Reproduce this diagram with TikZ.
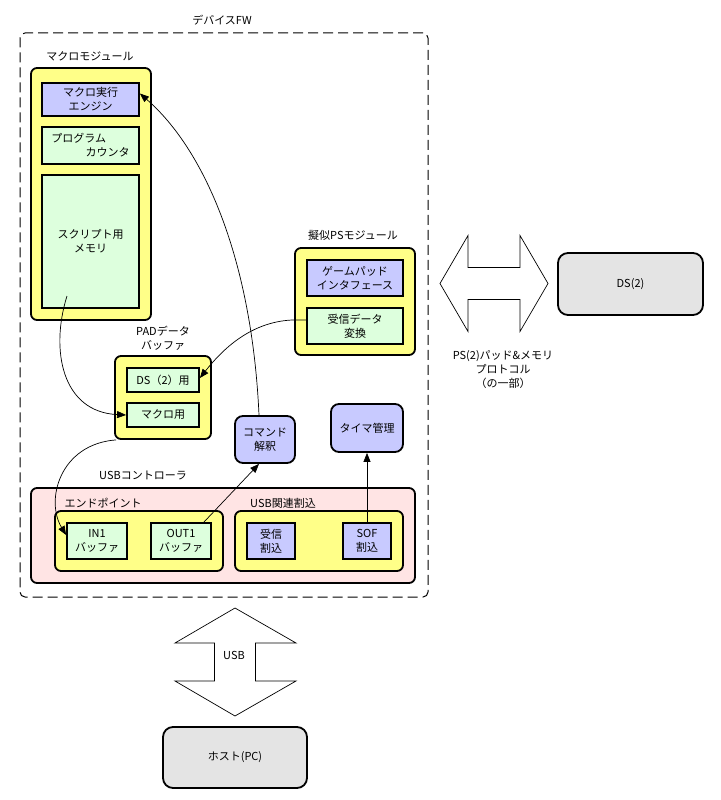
\documentclass[tikz,border=0pt]{standalone}
\usepackage{fontspec}
\setmainfont{Noto Sans CJK JP}
\usetikzlibrary{arrows.meta}
\definecolor{cyel}{HTML}{FFFF88}
\definecolor{cgrn}{HTML}{DDFFDD}
\definecolor{cblu}{HTML}{C8CAFF}
\definecolor{cpnk}{HTML}{FFE4E4}
\definecolor{cgry}{HTML}{E4E4E4}
\begin{document}
\begin{tikzpicture}[x=1pt,y=-1pt,
  every node/.style={font=\fontsize{11}{14}\selectfont, align=center, inner sep=0pt},
  box/.style={draw, line width=1.8pt, rectangle},
  ybox/.style={box, fill=cyel, rounded corners=6pt},
  gbox/.style={box, fill=cgrn},
  bbox/.style={box, fill=cblu},
  rbbox/.style={box, fill=cblu, rounded corners=8pt},
  pbox/.style={box, fill=cpnk, rounded corners=6pt},
  hbox/.style={box, fill=cgry, rounded corners=10pt},
  lbl/.style={},
  conn/.style={line width=0.7pt, -{Triangle[length=9pt,width=7pt]}},
  bigarrow/.style={draw, line width=0.7pt, fill=white}
]
\useasboundingbox (0,0) rectangle (720,800);

% outer device FW
\node[draw, dash pattern=on 10pt off 5pt, line width=1pt, rounded corners=5pt,
      minimum width=408pt, minimum height=564pt] (fw) at (224,315) {};
\node[lbl] (fwl) at (222,20) {デバイスFW};

% macro module
\node[lbl] (macl) at (90,56) {マクロモジュール};
\node[ybox, minimum width=120pt, minimum height=252pt] (mac) at (91,194) {};
\node[bbox, minimum width=97pt, minimum height=33pt] (engine) at (90.5,99.5) {マクロ実行\\エンジン};
\node[gbox, minimum width=97pt, minimum height=37pt] (pc) at (90.5,145.5) {};
\node[lbl, align=left] (pct) at (90.5,145.5) {プログラム\\\hspace{3.1em}カウンタ};
\node[gbox, minimum width=97pt, minimum height=133pt] (mem) at (90.5,241.5) {スクリプト用\\メモリ};

% pseudo PS module
\node[lbl] (psl) at (353,235) {擬似PSモジュール};
\node[ybox, minimum width=120pt, minimum height=107pt] (ps) at (355,301.5) {};
\node[bbox, minimum width=96pt, minimum height=36pt] (gpif) at (355,278) {ゲームパッド\\インタフェース};
\node[gbox, minimum width=96pt, minimum height=36pt] (conv) at (355,326) {受信データ\\変換};

% PAD data buffer
\node[lbl] (padl) at (163,338) {PADデータ\\バッファ};
\node[ybox, minimum width=96pt, minimum height=83pt] (pad) at (163,397.5) {};
\node[gbox, minimum width=72pt, minimum height=24pt] (ds2use) at (163,380) {DS（2）用};
\node[gbox, minimum width=72pt, minimum height=24pt] (macuse) at (163,415) {マクロ用};

% command / timer
\node[rbbox, minimum width=60pt, minimum height=47pt] (cmd) at (265,439.5) {コマンド\\解釈};
\node[rbbox, minimum width=72pt, minimum height=48pt] (timer) at (367,428) {タイマ管理};

% USB controller
\node[lbl] (usbcl) at (143,475) {USBコントローラ};
\node[pbox, minimum width=384pt, minimum height=95pt] (usbc) at (223,535.5) {};
\node[lbl] (epl) at (103,503) {エンドポイント};
\node[ybox, minimum width=168pt, minimum height=60pt] (ep) at (139,541) {};
\node[gbox, minimum width=60pt, minimum height=36pt] (in1) at (97,541) {IN1\\バッファ};
\node[gbox, minimum width=60pt, minimum height=36pt] (out1) at (181,541) {OUT1\\バッファ};
\node[lbl] (irql) at (283,503) {USB関連割込};
\node[ybox, minimum width=168pt, minimum height=60pt] (irq) at (319,541) {};
\node[bbox, minimum width=48pt, minimum height=36pt] (rx) at (271,541) {受信\\割込};
\node[bbox, minimum width=48pt, minimum height=36pt] (sof) at (367,541) {SOF\\割込};

% external
\node[hbox, minimum width=145pt, minimum height=62pt] (ds2) at (630.5,284) {DS(2)};
\node[hbox, minimum width=144pt, minimum height=61pt] (host) at (235,757.5) {ホスト(PC)};

% big double arrows
\draw[bigarrow] (440,283.5) -- (468,235.5) -- (468,267.5) -- (520,267.5) -- (520,235.5)
  -- (548,283.5) -- (520,331.5) -- (520,299.5) -- (468,299.5) -- (468,331.5) -- cycle;
\node[lbl] (psproto) at (503,369.5) {PS(2)パッド\&メモリ\\プロトコル\\（の一部）};
\draw[bigarrow] (235,608) -- (296,643) -- (255.5,643) -- (255.5,681) -- (296,681)
  -- (235,716) -- (175,681) -- (214.5,681) -- (214.5,643) -- (175,643) -- cycle;
\node[lbl] (usbl) at (234,655) {USB};

% connectors
\coordinate (memp) at (67,296);
\draw[conn] (memp) .. controls (50,350) and (62,412) .. (macuse.west);
\draw[conn] ([xshift=-6pt]cmd.north) .. controls (252,260) and (205,150) .. ([yshift=6pt]engine.east);
\draw[conn] ([yshift=6pt]conv.west) -- ++(-14,0) .. controls (250,322) and (222,350) .. ([yshift=2pt]ds2use.east);
\draw[conn] ([xshift=2pt]pad.south west) .. controls (60,444) and (45,500) .. ([yshift=6pt]in1.west);
\draw[conn] ([xshift=-8pt]out1.north east) -- ([xshift=-6pt]cmd.south);
\draw[conn] (sof.north) -- (timer.south);
\end{tikzpicture}
\end{document}
